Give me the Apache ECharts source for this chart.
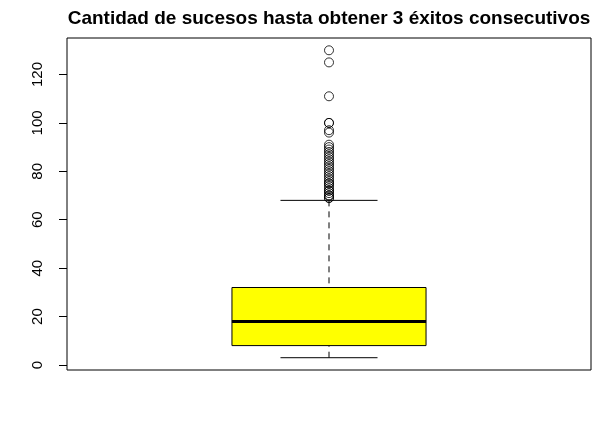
<!DOCTYPE html>
<html>
<head>
<meta charset="utf-8">
<script src="https://cdn.jsdelivr.net/npm/echarts@6/dist/echarts.min.js"></script>
<style>
html,body{margin:0;padding:0;background:#fff;}
#chart{width:611px;height:428px;}
</style>
</head>
<body>
<div id="chart"></div>
<script>
// ---- data ----
var titleText = 'Cantidad de sucesos hasta obtener 3 éxitos consecutivos';
var boxStats = [3, 8, 18, 32, 68]; // lower whisker, Q1, median, Q3, upper whisker
var outliers = [69, 69, 70, 70, 71, 72, 72, 73, 74, 75, 75, 76, 77, 78, 79, 80, 81, 82, 83, 84, 85, 86, 87, 88, 89, 90, 91, 96, 97, 100, 100, 111, 125, 130];
var yTicks = [0, 20, 40, 60, 80, 100, 120];

// ---- chart ----
var chart = echarts.init(document.getElementById('chart'), null, {renderer: 'canvas'});
var FONT = '"Liberation Sans", Arial, Helvetica, sans-serif';
var BOX_HALF = 0.2, CAP_HALF = 0.1;

var option = {
  animation: false,
  backgroundColor: '#ffffff',
  title: {
    text: titleText,
    left: 329, top: 9, textAlign: 'center', padding: 0,
    textStyle: {fontFamily: FONT, fontSize: 19, fontWeight: 'bold', color: '#000'}
  },
  grid: {
    left: 67, right: 20, top: 38, bottom: 58,
    show: true, borderColor: '#000', borderWidth: 1, backgroundColor: 'transparent'
  },
  xAxis: {
    type: 'value', min: 0.46, max: 1.54,
    axisLine: {show: false}, axisTick: {show: false}, axisLabel: {show: false}, splitLine: {show: false}
  },
  yAxis: {
    type: 'value', min: -2.08, max: 135.08,
    axisLine: {show: false},
    splitLine: {show: false},
    axisTick: {show: true, length: 8, customValues: yTicks, lineStyle: {color: '#000', width: 1}},
    axisLabel: {
      show: true, customValues: yTicks, rotate: 90, margin: 22,
      fontFamily: FONT, fontSize: 15, color: '#000'
    }
  },
  series: [
    {
      type: 'custom',
      data: [[1].concat(boxStats)],
      clip: false,
      renderItem: function (params, api) {
        var x = api.value(0);
        var lo = api.value(1), q1 = api.value(2), med = api.value(3), q3 = api.value(4), hi = api.value(5);
        var pQ1L = api.coord([x - BOX_HALF, q1]);
        var pQ3R = api.coord([x + BOX_HALF, q3]);
        var pMedL = api.coord([x - BOX_HALF, med]);
        var pMedR = api.coord([x + BOX_HALF, med]);
        var pLo = api.coord([x, lo]);
        var pHi = api.coord([x, hi]);
        var pQ1 = api.coord([x, q1]);
        var pQ3 = api.coord([x, q3]);
        var cLoL = api.coord([x - CAP_HALF, lo]), cLoR = api.coord([x + CAP_HALF, lo]);
        var cHiL = api.coord([x - CAP_HALF, hi]), cHiR = api.coord([x + CAP_HALF, hi]);
        var lineStyle = {stroke: '#000', lineWidth: 1};
        var dashStyle = {stroke: '#000', lineWidth: 1, lineDash: [6, 5]};
        return {
          type: 'group',
          children: [
            {type: 'line', shape: {x1: pHi[0], y1: pHi[1], x2: pQ3[0], y2: pQ3[1]}, style: dashStyle},
            {type: 'line', shape: {x1: pLo[0], y1: pLo[1], x2: pQ1[0], y2: pQ1[1]}, style: dashStyle},
            {type: 'line', shape: {x1: cHiL[0], y1: cHiL[1], x2: cHiR[0], y2: cHiR[1]}, style: lineStyle},
            {type: 'line', shape: {x1: cLoL[0], y1: cLoL[1], x2: cLoR[0], y2: cLoR[1]}, style: lineStyle},
            {type: 'rect', shape: {x: pQ1L[0], y: pQ3R[1], width: pQ3R[0] - pQ1L[0], height: pQ1L[1] - pQ3R[1]},
              style: {fill: '#ffff00', stroke: '#000', lineWidth: 1}},
            {type: 'line', shape: {x1: pMedL[0], y1: pMedL[1], x2: pMedR[0], y2: pMedR[1]},
              style: {stroke: '#000', lineWidth: 3}}
          ]
        };
      }
    },
    {
      type: 'scatter',
      data: outliers.map(function (v) { return [1, v]; }),
      symbol: 'circle',
      symbolSize: 9,
      itemStyle: {color: 'transparent', borderColor: '#000', borderWidth: 1}
    }
  ]
};
chart.setOption(option);
</script>
</body>
</html>
